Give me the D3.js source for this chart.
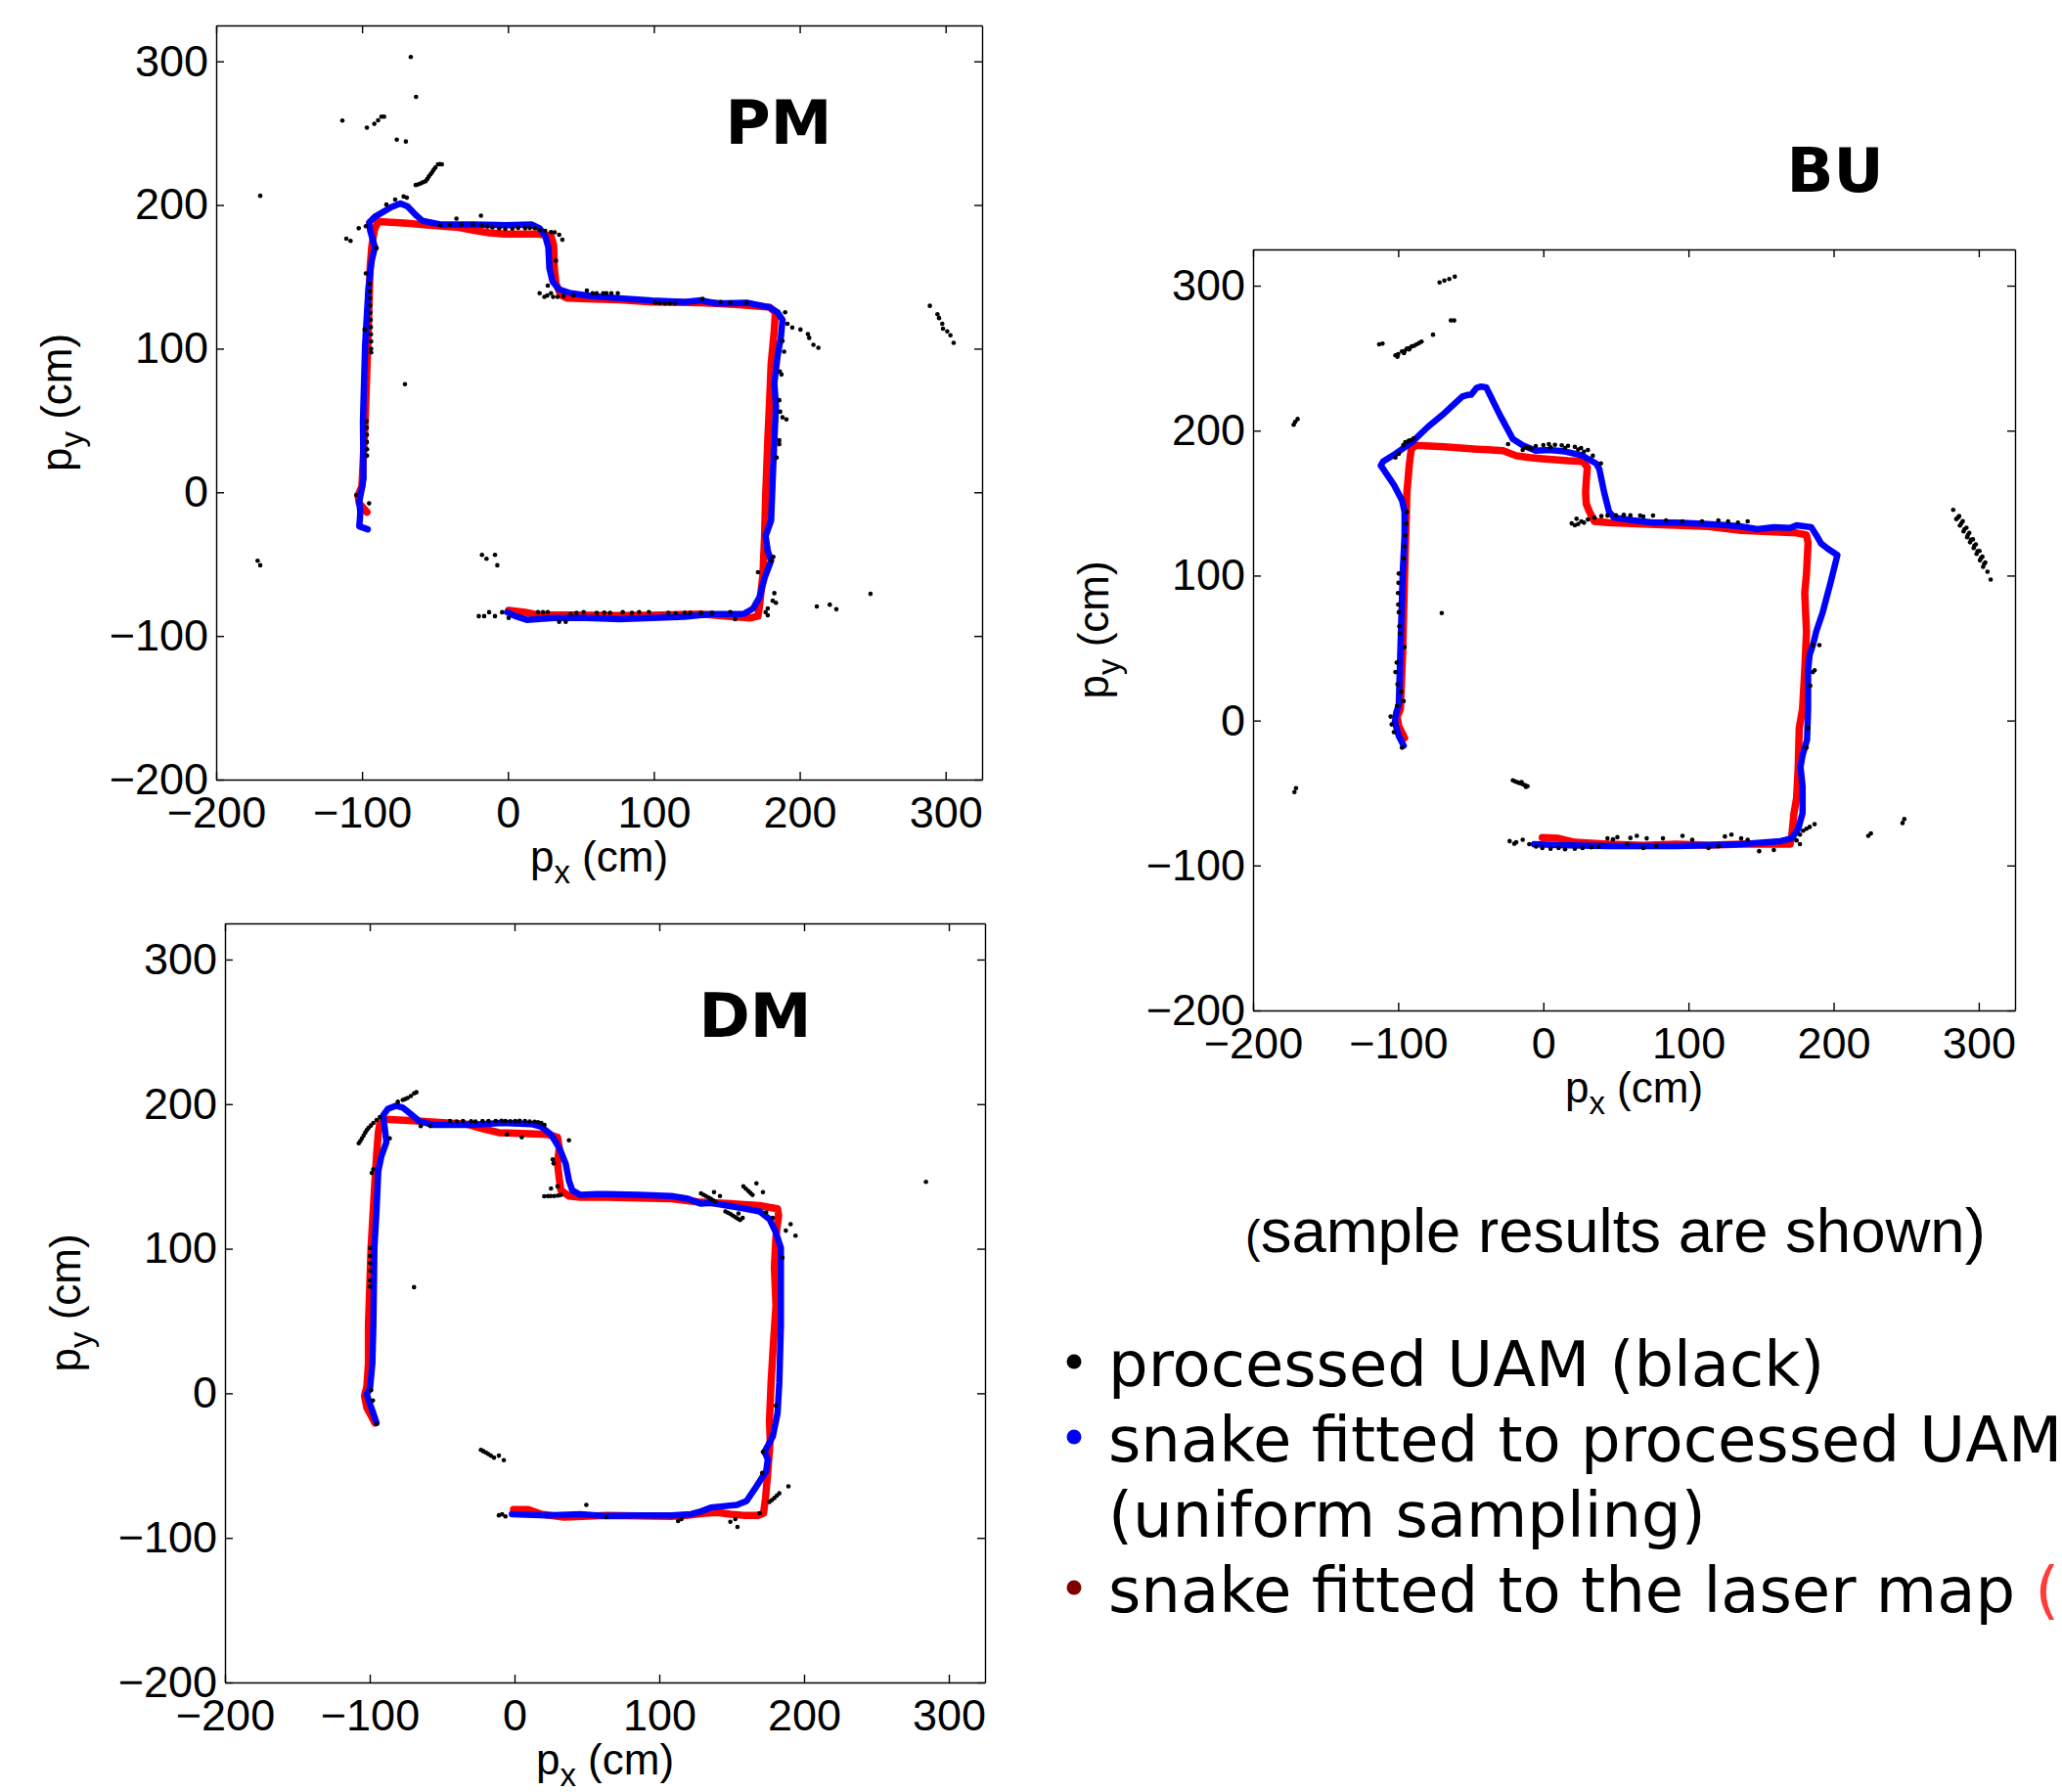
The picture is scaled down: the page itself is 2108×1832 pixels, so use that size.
<!DOCTYPE html>
<html>
<head>
<meta charset="utf-8">
<script src="https://cdn.jsdelivr.net/npm/d3@7"></script>
<style>
  body { margin: 0; background: #fff; }
  text { white-space: pre; }
</style>
</head>
<body>
<div id="chart"></div>
<script>
    // tick labels and axis range (cm)
    let tickValues = [-200, -100, 0, 100, 200, 300];
    let axisDomain = [-200, 325];

    // ---- PM ----
    let pmScan = [
      [-66.6, 303], [-63, 275.3], [-113.5, 258.8], [-96.7, 253.8], [-91.6, 256.5], [-89, 259], [-86.7, 261.5], [-84.9, 261.5],
      [-76.2, 245.5], [-70, 244.2], [-169.8, 206.4],
      [-63.2, 213.9], [-61.5, 214.3], [-59.9, 215], [-58.2, 215.8], [-56.5, 216.5], [-55.4, 218], [-54.3, 219.7], [-53.1, 221.3],
      [-52, 222.9], [-50.9, 224.5], [-49.8, 226.1], [-48, 228.3], [-46.6, 228.5], [-45.3, 228.3],
      [-83.3, 200.3], [-77.3, 203.8], [-71.5, 205.9], [-69.3, 205.1], [-102.3, 183.8], [-97.4, 185.2], [-110.8, 176.6], [-107.9, 175],
      [-90, 170], [-97.4, 152.4],
      [-94.8, 145], [-94.6, 140], [-94.5, 135], [-94.4, 130], [-94.3, 125], [-94.1, 120], [-94, 115], [-98.3, 113.3], [-93.9, 110],
      [-93.8, 105], [-93.8, 100], [-93.8, 97.4], [-96.9, 49.5], [-96.8, 45], [-96.7, 40], [-96.7, 35], [-96.6, 30], [-96.6, 25.5],
      [-103.9, -1.8], [-95.2, -7.7], [-70.6, 75.3],
      [-35.3, 190.5], [-18.5, 192.6], [-46.5, 186], [-40, 186.3], [-32, 186.5], [-24.1, 186.5], [-18, 186], [-14, 185], [-10.7, 184.4],
      [-6, 183.8], [-1.8, 183.3], [3, 183.5], [7, 184], [11.8, 183.8], [15, 184], [18.4, 183.8], [22, 182.5], [25.5, 182], [29.5, 181.2],
      [32, 181], [35.1, 179.3], [37.3, 175.8], [32.9, 161.2], [27.3, 143.9],
      [21.7, 138.6], [25, 136], [27, 137], [29.5, 138.6], [31, 136], [34, 136], [38, 136.5], [45, 137], [54.1, 140.5], [58, 138.5],
      [60.8, 138.6], [65.3, 138.6], [67.5, 138.6], [70.9, 138.6], [75.3, 138.6],
      [101, 131.9], [104, 131.6], [107.7, 131.4], [111, 131.4], [114.4, 131.4], [133.4, 134.6], [145.7, 132.5], [152.4, 132], [163.6, 132],
      [190, 125.3], [191.6, 117.3], [194.9, 114.7], [200.5, 113.3], [205.6, 110.1], [206.5, 107.5], [209.4, 102.7], [212.8, 100.6],
      [188.2, 105.4], [189.3, 97.9], [186.4, 84.1], [187.5, 82], [186, 64.1], [186.6, 56.1], [188.2, 52.2], [190.9, 50.8], [186, 36.2],
      [186, 33.5], [184.2, 24.2],
      [289.2, 129.8], [294.4, 124], [295.5, 121.3], [297.7, 117.3], [298.2, 113.9], [301.1, 112], [303.3, 109.3], [305.5, 104],
      [-171.6, -47.6], [-169.8, -50.8],
      [-17.8, -43.6], [-14.7, -46.3], [-8.9, -43.6], [-7.3, -50.8],
      [-20, -86.2], [-16.3, -86.2], [-12.9, -83.5], [-8.9, -86.2], [-4, -83.5], [0.5, -87.5], [20.6, -83.5], [24, -83.5], [27.3, -83.5],
      [35.1, -90.2], [39.6, -90.2], [43, -84.8], [47, -84], [51.9, -83.5], [60.8, -84], [66, -83.8], [70, -84], [78.7, -83.5],
      [85, -84], [89.9, -83.5], [96.6, -83.5], [110, -84], [115, -84.2], [121.2, -84], [125, -84], [132.3, -84], [140, -84],
      [152.4, -83.5], [155.8, -88.3],
      [181.9, -44.9], [180.4, -47.6], [171.4, -55.6], [182.6, -70.2], [181.5, -75.5], [183.7, -76.9], [178.1, -80.8], [176.6, -83.5],
      [178.1, -85.6], [211.7, -79.5], [220.6, -78.2], [225.1, -81.4], [248.5, -70.7]
    ];
    let pmLaser = [
      [-96.7, -13.8], [-101.9, -7.7], [-102.8, -2.4], [-100.1, 4.3], [-97.9, 49.5], [-96.1, 102.7], [-94.5, 155.9], [-93.4, 170.5],
      [-91.6, 182.5], [-89, 188.4], [-68.8, 187.3], [-55.4, 186], [-35.3, 184.6], [-24.1, 182.5], [-12.9, 180.6], [-1.8, 179.8],
      [20.6, 179.8], [29.5, 178.5], [31.3, 171.9], [31.8, 155.9], [32.9, 145.3], [36.2, 137.3], [40.7, 135.2], [54.1, 134.6],
      [76.5, 134], [98.8, 132.5], [132.3, 132], [159.1, 130.6], [179.3, 128.8], [183.3, 125.3], [182.6, 113.3], [180.4, 89.4],
      [179.3, 62.8], [178.1, 36.2], [176.6, -3.7], [175.9, -30.3], [174.8, -56.9], [172.5, -78.2], [171.4, -86.2], [165.9, -87.5],
      [154.7, -86.7], [132.3, -84.8], [98.8, -85.6], [74.2, -85.7], [43, -85.4], [20.6, -85.4], [11.7, -83.5], [0.5, -82.2]
    ];
    let pmUam = [
      [-96.1, -25.8], [-101.9, -23.7], [-101.2, -14.3], [-101.9, -6.4], [-100.1, 3], [-99, 9.6], [-99.4, 49.5], [-97.9, 102.7],
      [-95.6, 142.6], [-93.4, 161.2], [-91.2, 170.5], [-94.5, 182.5], [-95.2, 187.8], [-91.2, 191.8], [-80, 198.5], [-73.7, 201.1],
      [-68.8, 199], [-63.2, 193.1], [-58.7, 189.1], [-46.5, 186.5], [-24.1, 186.5], [-1.8, 186], [16.1, 186.5], [21.7, 183.8],
      [25.5, 178.5], [27.7, 170.5], [28.4, 155.9], [30.6, 146.6], [35.1, 141.3], [42.9, 138.6], [56.3, 136.7], [76.5, 135.1],
      [98.8, 133.5], [121.2, 132.5], [132.3, 133.6], [143.5, 131.4], [163.6, 132], [179.3, 128.8], [184.8, 125.3], [188.2, 120],
      [187.1, 108], [184.8, 94.7], [182.6, 76.1], [183.7, 60.1], [182.6, 36.2], [181.5, 9.6], [180.4, -19.7], [176.6, -30.3],
      [178.1, -40.9], [180.4, -47.6], [175.9, -59.6], [172.5, -72.9], [168.1, -80.8], [161.4, -84.8], [148, -84.8], [139, -84.8],
      [121.2, -86.7], [98.8, -87.5], [76.5, -88.3], [54.1, -87.5], [31.8, -87.5], [12.8, -88.8], [5, -86.2], [-0.6, -83.5]
    ];

    // ---- BU ----
    let buScan = [
      [-71.5, 302.2], [-68.2, 303.5], [-64.8, 304.6], [-61, 306.2], [-63.7, 276], [-61.4, 276], [-113.1, 259.5], [-110.8, 260],
      [-101.9, 252], [-100, 252.8], [-97.4, 254.7], [-95.5, 255], [-94, 256.6], [-92, 257], [-90.6, 258.2], [-89, 258.5],
      [-87.3, 259.5], [-85.5, 260.5], [-83.9, 261.4], [-100.5, 251], [-96, 253.5], [-92.5, 256], [-76, 266.2],
      [-172, 204], [-171, 206], [-169.3, 208],
      [-95.1, 192], [-91.7, 193.4], [-99.6, 184], [-101.9, 181.4], [-96.5, 190], [-93, 192.8], [-89.5, 194.5], [-24.3, 190.7],
      [-14.2, 186.7], [-12, 188.5], [-10, 188], [-8, 187.5], [-5.2, 189.4], [0, 190], [3.8, 190.7], [5, 188.5], [8, 190.2],
      [12.7, 189.9], [15, 188], [17, 189.5], [21.7, 188.8], [24, 187], [26, 188], [28, 185.5], [30.7, 186.7], [34.1, 182.7], [39.7, 177.4],
      [19.5, 136], [21.7, 134.7], [22.9, 139.2], [24, 135.5], [26.2, 137.4], [28, 136.5], [30.7, 138.7], [35.2, 140], [40, 141],
      [44.2, 141.4], [50, 141.6], [55.4, 141.9], [60, 141.6], [66.7, 141.4], [68.9, 140.8], [75.6, 141.4], [84.6, 138.1],
      [95.9, 137.4], [109.3, 137.4], [120.6, 138.1], [127.3, 137.4], [134.1, 136.6], [140.8, 137.4],
      [-94, 144], [-94.5, 136], [-95.1, 128], [-95.5, 120], [-96.2, 112], [-99.6, 101.4], [-99.8, 95], [-100.1, 88], [-100, 80],
      [-99.6, 74.7], [-99.2, 65], [-98.8, 60], [-95.6, 50.7], [-101, 40], [-101.9, 33.4], [-100.5, 25], [-98, 20], [-96.2, 13.4],
      [-100.8, 10], [-105.2, 2.7], [-104.5, -2.7], [-103, -8], [-97.4, -18.7],
      [-70, 74.1], [-170.4, -46.7], [-171.5, -49.3],
      [-21, -41.3], [-19.5, -42], [-17.6, -42.7], [-16, -43.3], [-15, -42.5], [-14.2, -44], [-12.5, -44.6], [-12, -45.8], [-10.9, -45.3],
      [-23.2, -83.2], [-20, -85], [-18.7, -84], [-14.2, -82.2], [-9.7, -85.3], [-5, -87], [-0.7, -88], [5, -88.5], [10.5, -88],
      [15, -88.8], [21.7, -88.5], [27, -88], [33, -87.5], [38, -87], [44.2, -81.3], [48, -82], [51, -80.5], [57.7, -85.3], [60, -81],
      [64.4, -79.5], [68.9, -88], [71.2, -81.3], [77.9, -86.7], [82.4, -81.3], [95.9, -79.5], [102.6, -82.2], [113.8, -88],
      [120.6, -86.7], [125.1, -80], [129.6, -78.7], [136.3, -81.3], [140.8, -82.2],
      [176.8, -78.7], [179, -76], [181.3, -74.7], [183.5, -73.4], [186.9, -71.5], [174.5, -82.7], [176.8, -85.3], [158.8, -89.3],
      [148.7, -90.1],
      [185.7, 52], [190.2, 52], [186.9, 34.7], [185.7, 33.4], [183.9, 24], [182.4, -5.3], [181.3, -18.7],
      [223.9, -79.5], [225.7, -77.9], [247.5, -70.7], [248.7, -68],
      [282.4, 145.3], [284.5, 139], [285.7, 140], [286.5, 141], [287, 134.5], [288, 136], [289, 137.5], [289.5, 130.5], [290.2, 132],
      [291.5, 133], [292, 126.5], [292.5, 128], [293.5, 129.5], [294, 123], [294.7, 124.7], [296, 125], [296.5, 119], [297, 120.7],
      [298, 121.5], [298.5, 115], [299.2, 116.8], [300.5, 117], [300.8, 110.5], [301.5, 112], [302.5, 113], [303, 106], [303.7, 108],
      [304.5, 109], [306, 102.7], [308.2, 97.3]
    ];
    let buLaser = [
      [-95.6, -12], [-99.6, -4], [-100.7, 2.7], [-98.5, 8], [-96.9, 48], [-95.6, 101.4], [-94.4, 141.4], [-94, 157.4], [-92.4, 176],
      [-91.1, 186.7], [-88.4, 189.9], [-68.2, 188.8], [-45.7, 187.2], [-27.7, 186.2], [-18.7, 182.7], [-9.7, 181.4], [-0.7, 180.6],
      [17.2, 179.2], [27.3, 178.7], [30.3, 174.7], [29.6, 165.4], [29.1, 157.4], [29.6, 149.4], [31.8, 144], [35.2, 137.4],
      [44.2, 136.6], [68.9, 135.5], [91.4, 134.7], [113.8, 133.9], [136.3, 131.2], [158.8, 130.2], [174.5, 129.4], [181.3, 128],
      [182.4, 122.7], [181.3, 101.4], [180.1, 88], [181.3, 61.3], [180.1, 34.7], [178.6, 8], [176.3, -5.3], [175.6, -32],
      [174.5, -53.3], [172.7, -64], [171.1, -80], [170, -85.3], [158.8, -85.3], [136.3, -85.3], [113.8, -85.9], [91.4, -85.3],
      [68.9, -86.2], [44.2, -85.3], [21.7, -84], [10.5, -81.3], [-0.7, -80.8]
    ];
    let buUam = [
      [-96.2, -17.3], [-99.6, -10.7], [-102.3, -1.3], [-101.4, 5.3], [-99.6, 10.7], [-98.5, 48], [-96.9, 101.4], [-95.6, 128],
      [-95.6, 144], [-97.4, 152], [-103, 162.7], [-112, 176], [-110.4, 178.7], [-101.9, 184], [-90.6, 192], [-79.4, 202.7],
      [-68.2, 212], [-55.8, 223.5], [-52.4, 224.6], [-49.7, 224.8], [-46.1, 229.4], [-43, 230.4], [-39.4, 229.9], [-29.9, 210.7],
      [-21, 194.2], [-14.2, 189.9], [-5.2, 186.2], [3.8, 186.7], [15, 185.6], [26.2, 183], [36.3, 177.4], [38.6, 173.4],
      [41.9, 157.4], [45.3, 144], [48.7, 140], [62.2, 138.1], [75.7, 136.6], [91.4, 136.6], [113.8, 135.5], [127.3, 134.7],
      [136.3, 133.9], [147.5, 132], [158.8, 133.4], [170, 132.8], [174.5, 134.7], [184.6, 133.4], [188, 128], [191.4, 122.1],
      [195.8, 118.7], [202.6, 114.1], [198.1, 96], [192.5, 74.7], [188, 61.3], [185.7, 52], [183.5, 45.3], [182.4, 34.7],
      [182.4, 8], [181.7, -13.3], [178.6, -24], [177.2, -32], [178.6, -45.3], [178.6, -64], [175.6, -74.7], [171.1, -81.3],
      [163.3, -83.2], [154.3, -84], [136.3, -85.3], [113.8, -86.2], [91.4, -86.7], [68.9, -86.7], [44.2, -86.7], [10.5, -85.9],
      [-6.4, -85.3]
    ];

    // ---- DM ----
    let dmScan = [
      [-107.6, 172.9], [-106.5, 174.5], [-105.4, 176.3], [-104.2, 178.3], [-103.1, 180.3], [-102, 182], [-100.9, 183.5],
      [-99.2, 185.2], [-97.5, 187], [-95.3, 189], [-93, 191],
      [-80.6, 201.6], [-77.2, 202.9], [-75.5, 203.5], [-73.9, 204.2], [-71.6, 205.6], [-69.4, 207.4], [-67.8, 208.2],
      [-64.8, 184.8], [-58.1, 184.8], [-44.6, 188.3], [-40, 188], [-35.6, 188.3], [-30, 188.2], [-27, 188], [-22.1, 188.3],
      [-18, 188.3], [-13, 188.3], [-9, 188.5], [-6.3, 188.3], [-3, 188.2], [0.5, 188.3], [3.5, 188.5], [7.2, 188.3], [10.5, 188],
      [13.9, 187.8], [16.2, 187.5], [18.5, 187], [20.7, 185.6], [-5.2, 179], [5, 177.1], [37.6, 175],
      [-98.6, 152.4], [-97.5, 155], [-86.2, 176.3],
      [26.4, 161.7], [27, 159], [25.2, 141.7], [29.7, 143.1], [20.5, 136.2], [23, 136.4], [25, 136.4], [27.5, 136.4], [30, 136.8],
      [32, 137.2],
      [-99.8, 100.5], [-99.8, 95], [-99.6, 90], [-99.5, 85], [-99.9, 78], [-99.8, 73.9], [-99.1, 2.1], [-97.8, -5], [-95.3, -21.3],
      [-69.4, 73.4],
      [-23.2, -39.2], [-21.5, -40.1], [-19.8, -41], [-18.1, -42], [-16.4, -43.1], [-14.2, -44.5], [-10.8, -43.1], [-7.4, -46.3],
      [49.6, -77.2],
      [-10.8, -84.4], [-8.6, -83.6], [-6.3, -85.2], [63.5, -85.7], [113, -88.4], [115.3, -87], [149.1, -88.9], [152.5, -87],
      [154, -92.4], [169.3, -83],
      [128.8, 138.3], [130.5, 137.3], [132.2, 136.4], [133.9, 135.4], [135.6, 134.5], [137.3, 133.4], [139, 132.4], [137.8, 139.1],
      [141.9, 136.4],
      [145.7, 125.8], [147.4, 124.9], [149.1, 124], [150.8, 122.9], [152.5, 121.8], [154.2, 120.8], [155.8, 119.8], [154.7, 124.4],
      [157.6, 121.3],
      [158.1, 143.1], [159.8, 141.5], [161.5, 139.9], [163, 138.5], [164.4, 137.2], [167.1, 145.2], [171.6, 139.1],
      [173.8, 125], [178.4, 121.3], [190.7, 117], [187.4, 112.5], [194.1, 109], [185.1, 93.8], [284.2, 146.2],
      [180.6, -8.6], [171.6, -40.5], [171.1, -55.1], [176.1, -75.1], [177.8, -73.8], [179.5, -72.4], [181.2, -70.8], [182.9, -69.2],
      [189.2, -64.4]
    ];
    let dmLaser = [
      [-96.4, -20.5], [-102, -9.9], [-103.6, -1.9], [-102, 4.7], [-100.9, 20.7], [-100.9, 47.3], [-99.1, 100.5], [-96.8, 140.4],
      [-95.3, 164.3], [-94.1, 180.3], [-93, 187], [-89.6, 189.6], [-67.1, 188.3], [-33.3, 186.2], [-22.1, 183], [-10.8, 180.3],
      [0.5, 179.8], [23, 179], [29.7, 177.1], [30.9, 169.7], [29.7, 159], [30.9, 148.4], [32, 140.4], [37.6, 136.4], [45.5, 135.6],
      [63.5, 135.6], [86, 135.1], [108.5, 134.5], [126.6, 132.4], [149.1, 131.1], [169.3, 129.8], [181.7, 127.6], [182.4, 123.1],
      [180.6, 108.5], [179.5, 87.2], [180.6, 60.6], [178.8, 34], [177.2, 7.4], [176.1, -19.2], [176.6, -32.5], [175, -53.8],
      [173.4, -72.4], [172, -83], [168.2, -84.4], [158.1, -84.4], [149.1, -83.6], [140.1, -82.5], [131.1, -83], [119.8, -84.4],
      [108.5, -85.2], [86, -84.9], [63.5, -84.4], [34.2, -85.7], [18.5, -83.6], [9.5, -80.4], [-0.7, -80.4]
    ];
    let dmUam = [
      [-95.3, -20.5], [-97.5, -13.9], [-100.4, -5.9], [-102, -0.6], [-99.8, 3.4], [-98.2, 20.7], [-97.5, 47.3], [-96.8, 100.5],
      [-95.3, 127.1], [-94.1, 153.7], [-91.9, 164.3], [-88.5, 173.7], [-89.6, 183], [-90.7, 192.3], [-87.4, 196.8], [-81.7, 198.9],
      [-77.2, 197.6], [-71.6, 193.1], [-66, 188.3], [-55.9, 185.6], [-33.3, 185.6], [-22.1, 186.2], [-8.6, 187], [11.7, 186.2],
      [18.5, 184.3], [25.2, 179], [30.9, 169.7], [35.3, 159], [37.6, 147.1], [39.9, 140.4], [45.5, 137.2], [56.8, 137.7],
      [63.5, 137.7], [86, 137.2], [108.5, 136.4], [119.8, 134.5], [128.8, 131.1], [135.6, 131.6], [146.8, 129.8], [158.1, 127.9],
      [169.3, 125.8], [176.1, 120.4], [180.6, 111.1], [184, 100.5], [184, 73.9], [184, 47.3], [182.9, 7.4], [181.7, -13.9],
      [178.4, -29.9], [172.7, -40.5], [175, -45.8], [173.8, -53.8], [167.1, -64.4], [160.3, -74.5], [153.6, -77.2], [142.3, -78.3],
      [135.6, -79], [128.8, -81.7], [122, -83.6], [108.5, -84.4], [86, -84.4], [63.5, -84.9], [45.5, -83.6], [23, -84.4], [-1.8, -83.6]
    ];

    let captionText = "sample results are shown)";
    let legendLabels = ["processed UAM (black)", "snake fitted to processed UAM", "(uniform sampling)", "snake fitted to the laser map "];
    let legendBullets = ["#000000", "#0000ff", null, "#800000"];

    let panels = [
      { name: "PM", scan: pmScan, laser: pmLaser, uam: pmUam, left: 221, top: 26, width: 783, height: 771, titleDx: 575, titleDy: 121 },
      { name: "BU", scan: buScan, laser: buLaser, uam: buUam, left: 1281, top: 255, width: 779, height: 778, titleDx: 595, titleDy: -59 },
      { name: "DM", scan: dmScan, laser: dmLaser, uam: dmUam, left: 230, top: 944, width: 777, height: 776, titleDx: 542, titleDy: 116 }
    ];

    let labelFont = "'Liberation Sans', Arial, Helvetica, sans-serif";
    let textFont = "'DejaVu Sans', Verdana, sans-serif";

    let svg = d3.select("#chart").append("svg")
      .attr("width", 2108)
      .attr("height", 1832)
      .style("background", "#fff");

    function styleAxis(g) {
      g.attr("font-size", 45).attr("font-family", labelFont);
      g.selectAll("path.domain").attr("stroke-width", 1.4);
      g.selectAll(".tick line").attr("stroke-width", 1.4);
      g.selectAll(".tick text").attr("fill", "#000");
    }

    function axisLabel(g, x, y, sub, rotate) {
      let t = g.append("text")
        .attr("text-anchor", "middle")
        .attr("font-size", 44)
        .attr("font-family", labelFont)
        .attr("fill", "#000");
      if (rotate) {
        t.attr("transform", `translate(${x},${y}) rotate(-90)`);
      } else {
        t.attr("x", x).attr("y", y);
      }
      t.append("tspan").text("p");
      t.append("tspan").attr("dy", 12).attr("font-size", 33).text(sub);
      t.append("tspan").attr("dy", -12).text(" (cm)");
    }

    function drawPanel(p) {
      let g = svg.append("g").attr("transform", `translate(${p.left},${p.top})`);

      let x = d3.scaleLinear().domain(axisDomain).range([0, p.width]);
      let y = d3.scaleLinear().domain(axisDomain).range([p.height, 0]);

      let line = d3.line()
        .x(d => x(d[0]))
        .y(d => y(d[1]));

      g.append("path")
        .datum(p.laser)
        .attr("d", line)
        .attr("fill", "none")
        .attr("stroke", "#ff0000")
        .attr("stroke-width", 7.5)
        .attr("stroke-linejoin", "round")
        .attr("stroke-linecap", "round");

      g.append("path")
        .datum(p.uam)
        .attr("d", line)
        .attr("fill", "none")
        .attr("stroke", "#0000ff")
        .attr("stroke-width", 6.5)
        .attr("stroke-linejoin", "round")
        .attr("stroke-linecap", "round");

      g.append("g")
        .selectAll("circle")
        .data(p.scan)
        .join("circle")
        .attr("cx", d => x(d[0]))
        .attr("cy", d => y(d[1]))
        .attr("r", 2.3)
        .attr("fill", "#000");

      // box with inward ticks on all four sides
      g.append("g")
        .attr("transform", `translate(0,${p.height})`)
        .call(d3.axisBottom(x).tickValues(tickValues).tickSize(-8).tickSizeOuter(0).tickPadding(17).tickFormat(d3.format("d")))
        .call(styleAxis);
      g.append("g")
        .call(d3.axisLeft(y).tickValues(tickValues).tickSize(-8).tickSizeOuter(0).tickPadding(8).tickFormat(d3.format("d")))
        .call(styleAxis);
      g.append("g")
        .call(d3.axisTop(x).tickValues(tickValues).tickSize(-8).tickSizeOuter(0).tickFormat(""))
        .call(styleAxis);
      g.append("g")
        .attr("transform", `translate(${p.width},0)`)
        .call(d3.axisRight(y).tickValues(tickValues).tickSize(-8).tickSizeOuter(0).tickFormat(""))
        .call(styleAxis);

      axisLabel(g, p.width / 2, p.height + 94, "x", false);
      axisLabel(g, -148, p.height / 2, "y", true);

      g.append("text")
        .attr("x", p.titleDx)
        .attr("y", p.titleDy)
        .attr("text-anchor", "middle")
        .attr("font-family", textFont)
        .attr("font-weight", "bold")
        .attr("font-size", 63)
        .attr("fill", "#000")
        .text(p.name);
    }

    panels.forEach(drawPanel);

    // caption
    let cap = svg.append("text")
      .attr("x", 1273)
      .attr("y", 1280)
      .attr("font-family", labelFont)
      .attr("font-size", 63.5)
      .attr("fill", "#000");
    cap.append("tspan").attr("font-size", 47).text("(");
    cap.append("tspan").text(captionText);

    // legend
    let legend = svg.append("g").attr("transform", "translate(1098,1417)");
    legendLabels.forEach(function (label, i) {
      let yy = i * 77;
      if (legendBullets[i]) {
        legend.append("circle")
          .attr("cx", 0)
          .attr("cy", yy - 25)
          .attr("r", 7.5)
          .attr("fill", legendBullets[i]);
      }
      let t = legend.append("text")
        .attr("x", 35)
        .attr("y", yy)
        .attr("font-family", textFont)
        .attr("font-size", 64)
        .attr("fill", "#000")
        .text(label);
      if (i === 3) {
        t.append("tspan").attr("fill", "#ff3b3b").text("(");
      }
    });
</script>
</body>
</html>
